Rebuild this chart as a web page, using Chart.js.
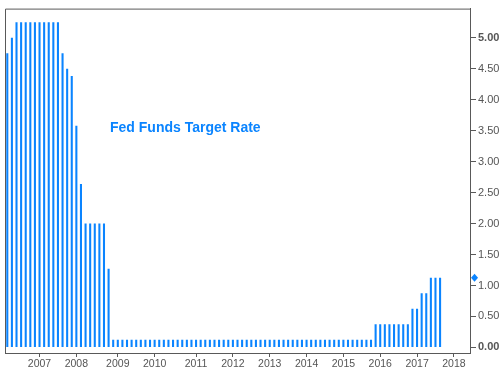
<!DOCTYPE html>
<html>
<head>
<meta charset="utf-8">
<script src="https://cdn.jsdelivr.net/npm/chart.js@4/dist/chart.umd.min.js"></script>
<style>
    html, body { margin: 0; padding: 0; background: #fff; }
    #wrap { width: 503px; height: 371px; }
</style>
</head>
<body>
<div id="wrap"><canvas id="rateChart" width="503" height="371"></canvas></div>
<script>
// FOMC meeting dates (one bar per meeting)
const meetings = [
    '2006-03-28', '2006-05-10', '2006-06-29', '2006-08-08', '2006-09-20', '2006-10-25', '2006-12-12',
    '2007-01-31', '2007-03-21', '2007-05-09', '2007-06-28', '2007-08-07', '2007-09-18', '2007-10-31', '2007-12-11',
    '2008-01-30', '2008-03-18', '2008-04-30', '2008-06-25', '2008-08-05', '2008-09-16', '2008-10-08', '2008-10-29', '2008-12-16',
    '2009-01-28', '2009-03-18', '2009-04-29', '2009-06-24', '2009-08-12', '2009-09-23', '2009-11-04', '2009-12-16',
    '2010-01-27', '2010-03-16', '2010-04-28', '2010-05-09', '2010-06-23', '2010-08-10', '2010-09-21', '2010-11-03', '2010-12-14',
    '2011-01-26', '2011-03-15', '2011-04-27', '2011-06-22', '2011-08-09', '2011-09-21', '2011-11-02', '2011-12-13',
    '2012-01-25', '2012-03-13', '2012-04-25', '2012-06-20', '2012-08-01', '2012-09-13', '2012-10-24', '2012-12-12',
    '2013-01-30', '2013-03-20', '2013-05-01', '2013-06-19', '2013-07-31', '2013-09-18', '2013-10-30', '2013-12-18',
    '2014-01-29', '2014-03-19', '2014-04-30', '2014-06-18', '2014-07-30', '2014-09-17', '2014-10-29', '2014-12-17',
    '2015-01-28', '2015-03-18', '2015-04-29', '2015-06-17', '2015-07-29', '2015-09-17', '2015-10-28', '2015-12-16',
    '2016-01-27', '2016-03-16', '2016-04-27', '2016-06-15', '2016-07-27', '2016-09-21', '2016-11-02', '2016-12-14',
    '2017-02-01', '2017-03-15', '2017-05-03', '2017-06-14', '2017-07-26', '2017-09-20', '2017-11-01', '2017-12-13',
    '2018-01-31', '2018-03-21', '2018-05-02', '2018-06-13'
];

// Target rate (midpoint of range after 2008)
const targetRate = [
    4.75, 5.00, 5.25, 5.25, 5.25, 5.25, 5.25,
    5.25, 5.25, 5.25, 5.25, 5.25, 4.75, 4.50, 4.38,
    3.58, 2.64, 2.00, 2.00, 2.00, 2.00, 2.00, 1.27, 0.125,
    0.125, 0.125, 0.125, 0.125, 0.125, 0.125, 0.125, 0.125,
    0.125, 0.125, 0.125, 0.125, 0.125, 0.125, 0.125, 0.125, 0.125,
    0.125, 0.125, 0.125, 0.125, 0.125, 0.125, 0.125, 0.125,
    0.125, 0.125, 0.125, 0.125, 0.125, 0.125, 0.125, 0.125,
    0.125, 0.125, 0.125, 0.125, 0.125, 0.125, 0.125, 0.125,
    0.125, 0.125, 0.125, 0.125, 0.125, 0.125, 0.125, 0.125,
    0.125, 0.125, 0.125, 0.125, 0.125, 0.125, 0.125, 0.375,
    0.375, 0.375, 0.375, 0.375, 0.375, 0.375, 0.375, 0.625,
    0.625, 0.875, 0.875, 1.125, 1.125, 1.125, null, null,
    null, null, null, null
];

// Right axis ticks
const yTicks = [0, 0.5, 1, 1.5, 2, 2.5, 3, 3.5, 4, 4.5, 5];

const BLUE = '#0a84ff';
const AXIS = '#595959';

const yearOf = i => meetings[i].slice(0, 4);

// Frame, title and the "latest value" marker
const extras = {
    id: 'extras',
    afterDraw(chart) {
        const { ctx, chartArea: a, scales } = chart;
        ctx.save();

        // top + left frame lines
        ctx.strokeStyle = AXIS;
        ctx.lineWidth = 1;
        ctx.beginPath();
        ctx.moveTo(a.left + 0.5, a.bottom);
        ctx.lineTo(a.left + 0.5, a.top + 0.5);
        ctx.lineTo(a.right, a.top + 0.5);
        ctx.stroke();

        // title
        ctx.fillStyle = BLUE;
        ctx.font = 'bold 14px "Liberation Sans", Arial, sans-serif';
        ctx.textBaseline = 'alphabetic';
        ctx.fillText('Fed Funds Target Rate', a.left + 105, 132);

        // diamond at last value on the right axis
        let last = null;
        targetRate.forEach(v => { if (v !== null) last = v; });
        const y = scales.y.getPixelForValue(last);
        const x = a.right + 4.5;
        ctx.beginPath();
        ctx.moveTo(x, y - 4);
        ctx.lineTo(x + 3.5, y);
        ctx.lineTo(x, y + 4);
        ctx.lineTo(x - 3.5, y);
        ctx.closePath();
        ctx.fill();

        ctx.restore();
    }
};

new Chart(document.getElementById('rateChart'), {
    type: 'bar',
    data: {
        labels: meetings,
        datasets: [{
            data: targetRate,
            backgroundColor: BLUE,
            borderWidth: 0,
            categoryPercentage: 1,
            barPercentage: 0.45
        }]
    },
    options: {
        responsive: false,
        animation: false,
        layout: { padding: { left: 5, top: 7, right: 0, bottom: 0 } },
        plugins: {
            legend: { display: false },
            tooltip: { enabled: false }
        },
        scales: {
            x: {
                offset: true,
                grid: {
                    offset: false,
                    drawOnChartArea: false,
                    tickLength: 4,
                    tickColor: AXIS
                },
                border: { color: AXIS, width: 1 },
                afterBuildTicks: scale => {
                    scale.ticks = scale.ticks.filter(t => t.value > 0 && yearOf(t.value) !== yearOf(t.value - 1));
                },
                afterFit: scale => { scale.height = 18; },
                ticks: {
                    autoSkip: false,
                    maxRotation: 0,
                    padding: 1,
                    color: '#555',
                    font: { family: '"Liberation Sans", Arial, sans-serif', size: 10.5 },
                    callback: function (value) { return yearOf(value); }
                }
            },
            y: {
                position: 'right',
                min: -0.09,
                max: 5.47,
                grid: {
                    drawOnChartArea: false,
                    tickLength: 6,
                    tickColor: AXIS
                },
                border: { color: AXIS, width: 1 },
                afterBuildTicks: scale => {
                    scale.ticks = yTicks.map(v => ({ value: v }));
                },
                afterFit: scale => { scale.width = 33; },
                ticks: {
                    padding: 2,
                    color: '#555',
                    font: ctx => ({
                        family: '"Liberation Sans", Arial, sans-serif',
                        size: 11,
                        weight: (ctx.tick && (ctx.tick.value === 0 || ctx.tick.value === 5)) ? 'bold' : 'normal'
                    }),
                    callback: value => value.toFixed(2)
                }
            }
        }
    },
    plugins: [extras]
});
</script>
</body>
</html>
